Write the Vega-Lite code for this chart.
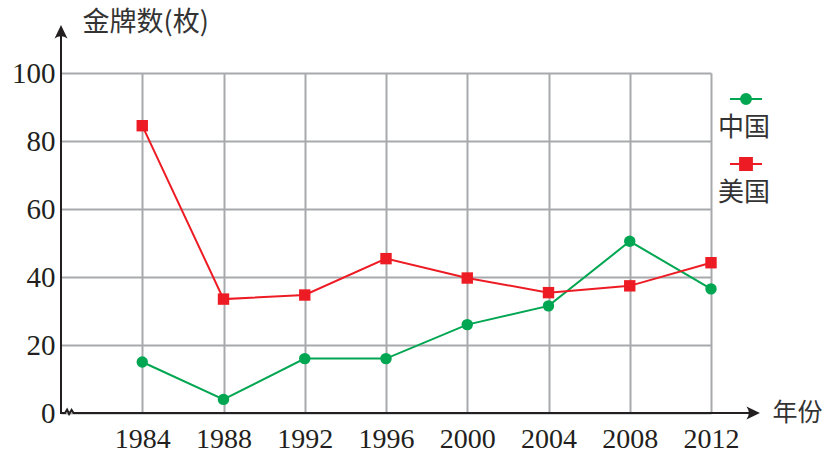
{
  "$schema": "https://vega.github.io/schema/vega-lite/v6.json",
  "width": 650,
  "height": 340,
  "autosize": {"type": "none"},
  "padding": {"left": 61, "top": 73, "right": 118, "bottom": 41},
  "background": "white",
  "config": {"view": {"stroke": null}},
  "resolve": {"scale": {"shape": "independent"}},
  "datasets": {
    "medals": [
      {"country": "中国", "year": 1984, "gold": 15},
      {"country": "中国", "year": 1988, "gold": 4},
      {"country": "中国", "year": 1992, "gold": 16},
      {"country": "中国", "year": 1996, "gold": 16},
      {"country": "中国", "year": 2000, "gold": 26},
      {"country": "中国", "year": 2004, "gold": 31.5},
      {"country": "中国", "year": 2008, "gold": 50.5},
      {"country": "中国", "year": 2012, "gold": 36.5},
      {"country": "美国", "year": 1984, "gold": 84.5},
      {"country": "美国", "year": 1988, "gold": 33.5},
      {"country": "美国", "year": 1992, "gold": 34.7},
      {"country": "美国", "year": 1996, "gold": 45.4},
      {"country": "美国", "year": 2000, "gold": 39.7},
      {"country": "美国", "year": 2004, "gold": 35.4},
      {"country": "美国", "year": 2008, "gold": 37.4},
      {"country": "美国", "year": 2012, "gold": 44.2}
    ],
    "frame": [
      {"part": "yaxis", "order": 1, "year": 1980, "gold": 113},
      {"part": "yaxis", "order": 2, "year": 1980, "gold": 0},
      {"part": "yaxis", "order": 3, "year": 1980.2, "gold": 0},
      {"part": "yaxis", "order": 4, "year": 1980.3, "gold": 1.0},
      {"part": "yaxis", "order": 5, "year": 1980.4, "gold": -0.3},
      {"part": "yaxis", "order": 6, "year": 1980.52, "gold": 0.9},
      {"part": "yaxis", "order": 7, "year": 1980.62, "gold": 0},
      {"part": "xaxis", "order": 8, "year": 1980.8, "gold": 0},
      {"part": "xaxis", "order": 9, "year": 2014.0, "gold": 0}
    ],
    "arrows": [
      {"dir": "up", "year": 1980, "gold": 114.1},
      {"dir": "right", "year": 2014.41, "gold": 0}
    ]
  },
  "layer": [
    {
      "data": {"name": "medals"},
      "mark": {"type": "line", "strokeWidth": 2},
      "encoding": {
        "x": {
          "field": "year", "type": "quantitative",
          "scale": {"domain": [1980, 2012], "nice": false, "zero": false},
          "axis": {
            "values": [1984, 1988, 1992, 1996, 2000, 2004, 2008, 2012],
            "format": "d",
            "domain": false, "ticks": false,
            "labelFlush": false, "labelOverlap": false,
            "grid": true, "gridColor": "#a7a9ac", "gridWidth": 2,
            "labelFont": "Liberation Serif", "labelFontSize": 28, "labelColor": "#231f20",
            "labelPadding": 12,
            "title": "年份", "titleFont": "Noto Sans CJK SC", "titleFontSize": 25,
            "titleFontWeight": "normal", "titleColor": "#333333",
            "titleX": 711, "titleY": -1, "titleAlign": "left", "titleBaseline": "middle", "titleAnchor": null
          }
        },
        "y": {
          "field": "gold", "type": "quantitative",
          "scale": {"domain": [0, 100], "nice": false},
          "axis": {
            "values": [0, 20, 40, 60, 80, 100],
            "domain": false, "ticks": false,
            "grid": true, "gridColor": "#a7a9ac", "gridWidth": 2,
            "labelFont": "Liberation Serif", "labelFontSize": 29, "labelColor": "#231f20",
            "labelPadding": 6,
            "title": "金牌数(枚)", "titleFont": "Noto Sans CJK SC", "titleFontSize": 27,
            "titleFontWeight": "normal", "titleColor": "#333333", "titleAngle": 0,
            "titleX": 21, "titleY": -51, "titleAlign": "left", "titleBaseline": "middle", "titleAnchor": null
          }
        },
        "color": {
          "field": "country", "type": "nominal",
          "scale": {"domain": ["中国", "美国"], "range": ["#00a651", "#ed1c24"]},
          "legend": {
            "orient": "none", "legendX": 668, "legendY": 9,
            "title": null, "direction": "vertical", "padding": 0,
            "symbolSize": 1024, "symbolStrokeWidth": 2,
            "labelFont": "Noto Sans CJK SC", "labelFontSize": 26, "labelColor": "#333333",
            "labelAlign": "center", "labelBaseline": "middle", "labelOffset": 0,
            "rowPadding": 6,
            "encode": {
              "symbols": {"update": {
                "shape": {"signal": "datum.value === '中国' ? 'M-1,0H1M-0.31,0A0.31,0.31 0 1,0 0.31,0A0.31,0.31 0 1,0 -0.31,0Z' : 'M-1,0H1M-0.37,-0.37H0.37V0.37H-0.37Z'"},
                "fill": {"signal": "datum.value === '中国' ? '#00a651' : '#ed1c24'"},
                "stroke": {"signal": "datum.value === '中国' ? '#00a651' : '#ed1c24'"},
                "opacity": {"value": 1}, "fillOpacity": {"value": 1}
              }},
              "labels": {"update": {"dx": {"value": -19}, "dy": {"value": 29}}}
            }
          }
        }
      }
    },
    {
      "data": {"name": "medals"},
      "mark": {"type": "point", "filled": true, "opacity": 1, "size": 130},
      "encoding": {
        "x": {"field": "year", "type": "quantitative"},
        "y": {"field": "gold", "type": "quantitative"},
        "color": {"field": "country", "type": "nominal", "legend": null},
        "shape": {"field": "country", "type": "nominal", "scale": {"domain": ["中国", "美国"], "range": ["circle", "square"]}, "legend": null}
      }
    },
    {
      "data": {"name": "frame"},
      "mark": {"type": "line", "color": "#231f20", "strokeWidth": 2, "strokeJoin": "miter"},
      "encoding": {
        "x": {"field": "year", "type": "quantitative"},
        "y": {"field": "gold", "type": "quantitative"},
        "order": {"field": "order", "type": "quantitative"}
      }
    },
    {
      "data": {"name": "arrows"},
      "mark": {"type": "point", "filled": true, "opacity": 1, "color": "#231f20", "size": 550},
      "encoding": {
        "x": {"field": "year", "type": "quantitative"},
        "y": {"field": "gold", "type": "quantitative"},
        "shape": {"field": "dir", "type": "nominal", "scale": {"domain": ["up", "right"], "range": ["M0,0L0.55,1.15Q0,0.75,-0.55,1.15Z", "M0,0L-1.15,-0.55Q-0.75,0,-1.15,0.55Z"]}, "legend": null}
      }
    }
  ]
}
